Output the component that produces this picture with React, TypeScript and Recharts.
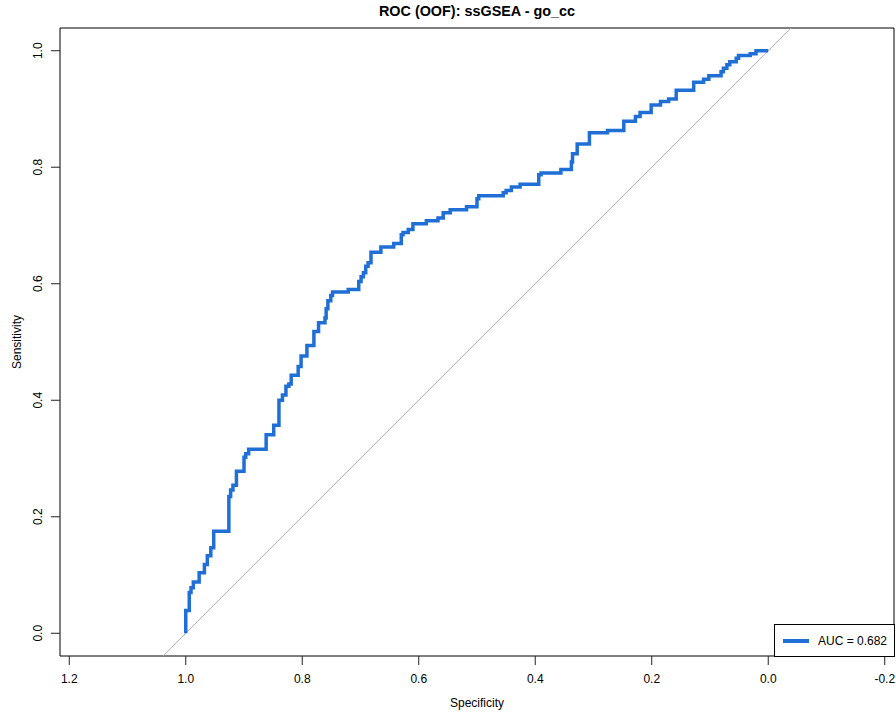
import React from "react";
import {
  ComposedChart,
  Line,
  XAxis,
  YAxis,
  ReferenceLine,
  ReferenceArea,
  Label,
} from "recharts";

// ROC curve vertices (specificity, sensitivity), in drawing order
const specificity = [
  1.0, 1.0, 0.994, 0.994, 0.991, 0.991, 0.987, 0.987, 0.977, 0.977, 0.968, 0.968,
  0.963, 0.963, 0.957, 0.957, 0.952, 0.952, 0.926, 0.926, 0.923, 0.923, 0.919, 0.919,
  0.913, 0.913, 0.9, 0.9, 0.897, 0.897, 0.892, 0.892, 0.862, 0.862, 0.849, 0.849,
  0.84, 0.84, 0.834, 0.834, 0.828, 0.828, 0.823, 0.823, 0.819, 0.819, 0.807, 0.807,
  0.802, 0.802, 0.792, 0.792, 0.78, 0.78, 0.772, 0.772, 0.761, 0.761, 0.759, 0.759,
  0.756, 0.756, 0.751, 0.751, 0.748, 0.748, 0.721, 0.721, 0.703, 0.703, 0.699, 0.699,
  0.695, 0.695, 0.691, 0.691, 0.687, 0.687, 0.682, 0.682, 0.665, 0.665, 0.643, 0.643,
  0.63, 0.63, 0.627, 0.627, 0.618, 0.618, 0.61, 0.61, 0.587, 0.587, 0.567, 0.567,
  0.558, 0.558, 0.546, 0.546, 0.518, 0.518, 0.5, 0.5, 0.497, 0.497, 0.455, 0.455,
  0.45, 0.45, 0.441, 0.441, 0.426, 0.426, 0.394, 0.394, 0.39, 0.39, 0.356, 0.356,
  0.338, 0.338, 0.336, 0.336, 0.328, 0.328, 0.307, 0.307, 0.276, 0.276, 0.248, 0.248,
  0.228, 0.228, 0.22, 0.22, 0.201, 0.201, 0.185, 0.185, 0.171, 0.171, 0.158, 0.158,
  0.128, 0.128, 0.111, 0.111, 0.102, 0.102, 0.081, 0.081, 0.077, 0.077, 0.071, 0.071,
  0.066, 0.066, 0.055, 0.055, 0.051, 0.051, 0.031, 0.031, 0.021, 0.021, 0.0,
];
const sensitivity = [
  0.0, 0.039, 0.039, 0.07, 0.07, 0.078, 0.078, 0.088, 0.088, 0.104, 0.104, 0.118,
  0.118, 0.133, 0.133, 0.147, 0.147, 0.175, 0.175, 0.235, 0.235, 0.246, 0.246, 0.254,
  0.254, 0.278, 0.278, 0.302, 0.302, 0.308, 0.308, 0.316, 0.316, 0.341, 0.341, 0.357,
  0.357, 0.4, 0.4, 0.409, 0.409, 0.424, 0.424, 0.428, 0.428, 0.443, 0.443, 0.458,
  0.458, 0.476, 0.476, 0.494, 0.494, 0.518, 0.518, 0.533, 0.533, 0.541, 0.541, 0.557,
  0.557, 0.571, 0.571, 0.58, 0.58, 0.586, 0.586, 0.59, 0.59, 0.604, 0.604, 0.612,
  0.612, 0.619, 0.619, 0.63, 0.63, 0.636, 0.636, 0.654, 0.654, 0.663, 0.663, 0.669,
  0.669, 0.684, 0.684, 0.688, 0.688, 0.693, 0.693, 0.703, 0.703, 0.708, 0.708, 0.713,
  0.713, 0.722, 0.722, 0.727, 0.727, 0.732, 0.732, 0.746, 0.746, 0.751, 0.751, 0.756,
  0.756, 0.76, 0.76, 0.766, 0.766, 0.771, 0.771, 0.787, 0.787, 0.79, 0.79, 0.796,
  0.796, 0.809, 0.809, 0.823, 0.823, 0.84, 0.84, 0.859, 0.859, 0.863, 0.863, 0.879,
  0.879, 0.887, 0.887, 0.894, 0.894, 0.907, 0.907, 0.913, 0.913, 0.917, 0.917, 0.932,
  0.932, 0.946, 0.946, 0.951, 0.951, 0.957, 0.957, 0.964, 0.964, 0.97, 0.97, 0.976,
  0.976, 0.981, 0.981, 0.987, 0.987, 0.992, 0.992, 0.995, 0.995, 1.0, 1.0,
];

const xTicks = [1.2, 1.0, 0.8, 0.6, 0.4, 0.2, 0.0, -0.2];
const yTicks = [0.0, 0.2, 0.4, 0.6, 0.8, 1.0];
const X_DOMAIN: [number, number] = [-0.2159, 1.2159];
const Y_DOMAIN: [number, number] = [-0.039, 1.039];

const TITLE = "ROC (OOF): ssGSEA - go_cc";
const AUC_LABEL = "AUC = 0.682";
const CURVE_COLOR = "#1f6fd6";
const FONT = "'Liberation Sans', Arial, sans-serif";

const rocData = specificity.map((s, i) => ({ spec: s, sens: sensitivity[i] }));

const XTick = (props: any) => {
  const { x, y, payload } = props;
  return (
    <text
      x={x}
      y={y + 14}
      textAnchor="middle"
      dominantBaseline="central"
      fontSize={12}
      fontFamily={FONT}
      fill="#000"
    >
      {Number(payload.value).toFixed(1)}
    </text>
  );
};

const YTick = (props: any) => {
  const { x, y, payload } = props;
  const cx = x - 13;
  return (
    <text
      x={cx}
      y={y}
      transform={`rotate(-90, ${cx}, ${y})`}
      textAnchor="middle"
      dominantBaseline="central"
      fontSize={12}
      fontFamily={FONT}
      fill="#000"
    >
      {Number(payload.value).toFixed(1)}
    </text>
  );
};

export default function App() {
  return (
    <div
      style={{
        position: "absolute",
        left: 0,
        top: 0,
        width: 896,
        height: 713,
        background: "#fff",
        fontFamily: FONT,
      }}
    >
      <div
        style={{
          position: "absolute",
          left: 60,
          width: 834,
          top: 2,
          textAlign: "center",
          fontWeight: "bold",
          fontSize: 14.4,
          lineHeight: "18px",
          color: "#000",
        }}
      >
        {TITLE}
      </div>
      <ComposedChart
        width={896}
        height={713}
        data={rocData}
        margin={{ top: 28, right: 2, bottom: 0, left: 0 }}
      >
        <XAxis
          dataKey="spec"
          type="number"
          domain={X_DOMAIN}
          allowDataOverflow
          reversed
          ticks={xTicks}
          interval={0}
          height={57}
          tickSize={9}
          tickMargin={0}
          axisLine={false}
          tickLine={{ stroke: "#222", strokeWidth: 1 }}
          tick={<XTick />}
        >
          <Label
            value="Specificity"
            position="insideBottom"
            offset={6}
            style={{ fontSize: 12, fontFamily: FONT, fill: "#000" }}
          />
        </XAxis>
        <YAxis
          type="number"
          domain={Y_DOMAIN}
          allowDataOverflow
          ticks={yTicks}
          interval={0}
          width={60}
          tickSize={9}
          tickMargin={0}
          axisLine={false}
          tickLine={{ stroke: "#222", strokeWidth: 1 }}
          tick={<YTick />}
        >
          <Label
            value="Sensitivity"
            angle={-90}
            position="insideLeft"
            offset={17}
            style={{ fontSize: 12, fontFamily: FONT, fill: "#000", textAnchor: "middle" }}
          />
        </YAxis>
        <ReferenceLine
          segment={[
            { x: 1 - Y_DOMAIN[0], y: Y_DOMAIN[0] },
            { x: 1 - Y_DOMAIN[1], y: Y_DOMAIN[1] },
          ]}
          stroke="#b4b4b4"
          strokeWidth={1}
          ifOverflow="visible"
        />
        <Line
          type="linear"
          dataKey="sens"
          stroke={CURVE_COLOR}
          strokeWidth={3.5}
          dot={false}
          activeDot={false}
          isAnimationActive={false}
        />
        <ReferenceArea
          x1={X_DOMAIN[0]}
          x2={X_DOMAIN[1]}
          y1={Y_DOMAIN[0]}
          y2={Y_DOMAIN[1]}
          fill="none"
          fillOpacity={0}
          stroke="#000"
          strokeWidth={1}
          strokeOpacity={1}
          ifOverflow="visible"
        />
      </ComposedChart>
      <div
        style={{
          position: "absolute",
          left: 774,
          top: 624,
          width: 121,
          height: 33,
          boxSizing: "border-box",
          border: "1px solid #000",
          background: "#fff",
        }}
      >
        <div
          style={{
            position: "absolute",
            left: 8,
            top: 14,
            width: 26,
            height: 3.5,
            background: CURVE_COLOR,
          }}
        />
        <div
          style={{
            position: "absolute",
            left: 43,
            top: 8,
            fontSize: 12,
            lineHeight: "16px",
            color: "#000",
            whiteSpace: "nowrap",
          }}
        >
          {AUC_LABEL}
        </div>
      </div>
    </div>
  );
}
